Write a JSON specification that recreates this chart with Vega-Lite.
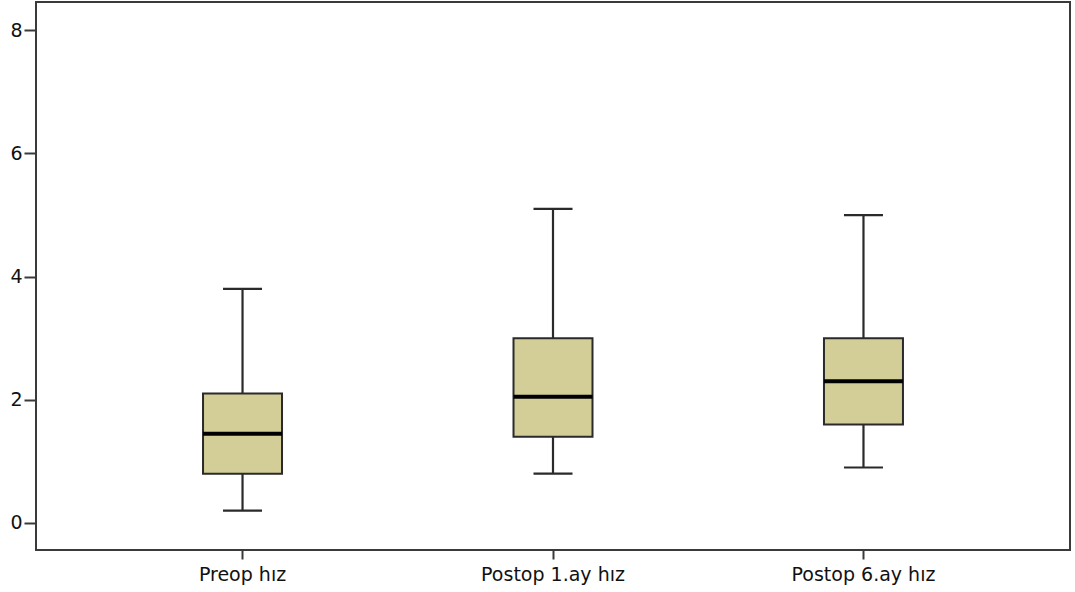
{
  "$schema": "https://vega.github.io/schema/vega-lite/v6.json",
  "autosize": "none",
  "width": 1034,
  "height": 548,
  "padding": {"left": 36, "top": 2, "right": 5, "bottom": 42},
  "background": "white",
  "config": {
    "view": {"stroke": "#3a3a3a", "strokeWidth": 2},
    "axis": {"labelFont": "DejaVu Sans", "labelColor": "#111", "tickColor": "#3a3a3a", "tickWidth": 2, "domain": false, "grid": false, "title": null}
  },
  "data": {
    "values": [
      {"group": "Preop hız", "min": 0.2, "q1": 0.8, "median": 1.45, "q3": 2.1, "max": 3.8},
      {"group": "Postop 1.ay hız", "min": 0.8, "q1": 1.4, "median": 2.05, "q3": 3.0, "max": 5.1},
      {"group": "Postop 6.ay hız", "min": 0.9, "q1": 1.6, "median": 2.3, "q3": 3.0, "max": 5.0}
    ]
  },
  "encoding": {
    "x": {
      "field": "group",
      "type": "nominal",
      "sort": null,
      "scale": {"paddingInner": 0.7456, "paddingOuter": 0.538},
      "axis": {"labelAngle": 0, "labelFontSize": 19, "tickSize": 9, "labelPadding": 6, "tickWidth": 2}
    }
  },
  "layer": [
    {
      "mark": {"type": "rule", "color": "#2a2a2a", "strokeWidth": 2.2},
      "encoding": {
        "y": {"field": "min", "type": "quantitative", "scale": {"domain": [-0.44, 8.46], "nice": false, "zero": false},
              "axis": {"values": [0, 2, 4, 6, 8], "format": "d", "labelFontSize": 19, "tickSize": 12, "labelPadding": 2}},
        "y2": {"field": "max"}
      }
    },
    {
      "mark": {"type": "bar", "fill": "#D3CE98", "stroke": "#2a2a2a", "strokeWidth": 2},
      "encoding": {
        "y": {"field": "q1", "type": "quantitative"},
        "y2": {"field": "q3"}
      }
    },
    {
      "mark": {"type": "tick", "color": "#000", "size": 79, "thickness": 4, "opacity": 1},
      "encoding": {"y": {"field": "median", "type": "quantitative"}}
    },
    {
      "mark": {"type": "tick", "color": "#2a2a2a", "size": 39, "thickness": 2.2, "opacity": 1},
      "encoding": {"y": {"field": "min", "type": "quantitative"}}
    },
    {
      "mark": {"type": "tick", "color": "#2a2a2a", "size": 39, "thickness": 2.2, "opacity": 1},
      "encoding": {"y": {"field": "max", "type": "quantitative"}}
    }
  ]
}
